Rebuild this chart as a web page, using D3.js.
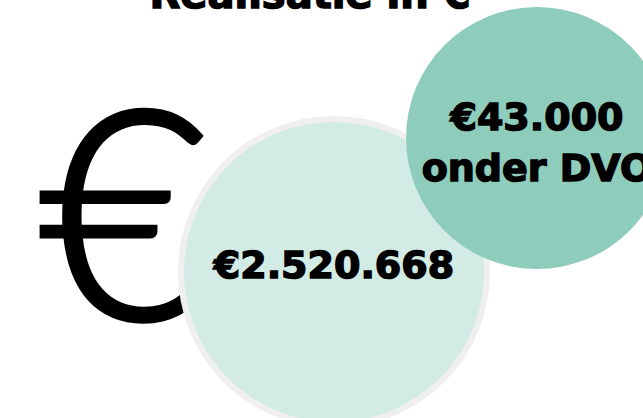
<!DOCTYPE html>
<html><head><meta charset="utf-8">
<script src="https://cdn.jsdelivr.net/npm/d3@7"></script>
<style>
html,body{margin:0;padding:0;background:#fff;}
svg{display:block;}
</style></head>
<body>
<svg id="chart" width="643" height="418"></svg>
<script>
const title = "Realisatie in €";
const labels = ["total", "dvo"];
const values = [2520668, 43000];
const valueTexts = [["€2.520.668"], ["€43.000", "onder DVO"]];

const svg = d3.select("#chart");
const heavy = "'DejaVu Sans', sans-serif";

// title (cut off by the top edge, as in the reference)
svg.append("text")
  .attr("x", 310).attr("y", 8)
  .attr("text-anchor", "middle")
  .style("font-family", heavy)
  .style("font-weight", 700)
  .style("font-size", "40px")
  .attr("stroke", "#000").attr("stroke-width", 1.5)
  .text(title);

// decorative euro sign
svg.append("text")
  .attr("x", 124).attr("y", 319)
  .attr("text-anchor", "middle")
  .style("font-family", "Lato, 'Open Sans', sans-serif")
  .style("font-weight", 300)
  .style("font-size", "292px")
  .attr("stroke", "#000").attr("stroke-width", 5)
  .text("€");

const layout = [
  {cx: 334, cy: 272, r: 153, fill: "#d3ebe5", stroke: "#efefef", sw: 6},
  {cx: 537, cy: 138, r: 131, fill: "#8ecdbc", stroke: "none", sw: 0}
];
const nodes = labels.map((k, i) => ({key: k, value: values[i], lines: valueTexts[i], ...layout[i]}));

const g = svg.selectAll("g.bubble").data(nodes).join("g").attr("class", "bubble");
g.append("circle")
  .attr("cx", d => d.cx).attr("cy", d => d.cy).attr("r", d => d.r)
  .attr("fill", d => d.fill).attr("stroke", d => d.stroke).attr("stroke-width", d => d.sw);

g.each(function(d) {
  const n = d.lines.length, lh = 51;
  const t = d3.select(this).append("text")
    .attr("text-anchor", "middle")
    .style("font-family", heavy)
    .style("font-weight", 700)
    .style("font-size", "38px")
    .attr("fill", "#000")
    .attr("stroke", "#000").attr("stroke-width", 1.5);
  d.lines.forEach((line, i) => {
    t.append("tspan")
      .attr("x", d.cx)
      .attr("y", d.cy + 6 + (n === 1 ? 0 : (i - (n - 1) / 2) * lh + 11))
      .text(line);
  });
});
</script>
</body></html>
